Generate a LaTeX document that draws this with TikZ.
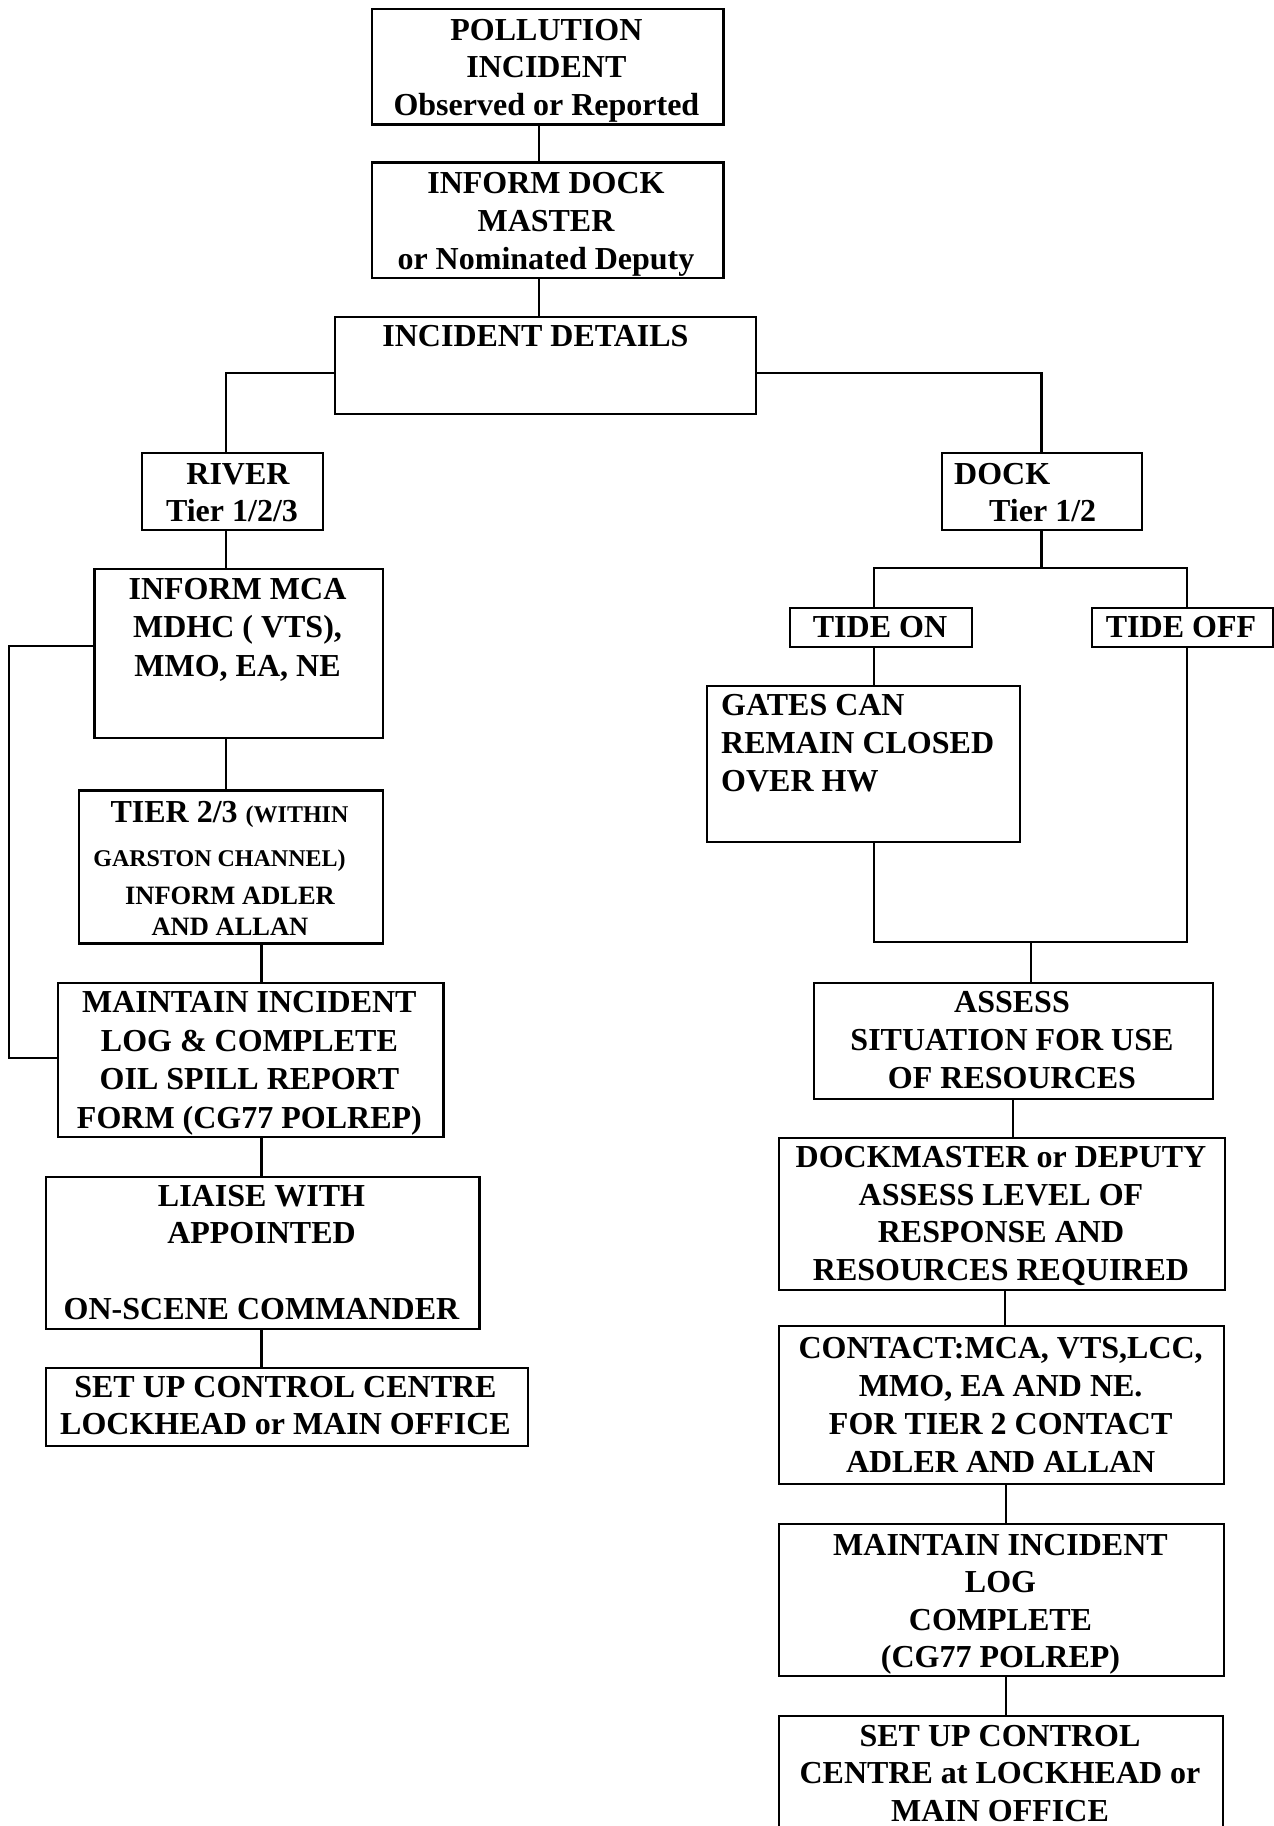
\documentclass[tikz,border=0pt]{standalone}
\usepackage{fontspec}
\setmainfont{Liberation Serif}
\begin{document}
\begin{tikzpicture}[x=1pt,y=-1pt,
  box/.style={draw, line width=2.4pt, inner sep=0pt, anchor=north west},
  conn/.style={line width=2.2pt},
  txt/.style={inner sep=0pt, anchor=base, align=center, font=\fontsize{32}{38}\selectfont\bfseries},
  txtl/.style={txt, anchor=base west, align=left},
]
\useasboundingbox (0,0) rectangle (1274,1826);

% ---------- boxes ----------
\node[box, minimum width=351.8pt, minimum height=115.4pt] (p1) at (370.5,8) {};
\node[box, minimum width=351.8pt, minimum height=115.5pt] (p2) at (370.5,161.3) {};
\node[box, minimum width=421pt, minimum height=97pt] (p3) at (334,316) {};
\node[box, minimum width=181pt, minimum height=77.1pt] (p4) at (141,451.6) {};
\node[box, minimum width=200.4pt, minimum height=77.1pt] (p5) at (940.6,451.6) {};
\node[box, minimum width=182pt, minimum height=39pt] (p6) at (789,607) {};
\node[box, minimum width=180.5pt, minimum height=39pt] (p7) at (1091,607) {};
\node[box, minimum width=313pt, minimum height=156.1pt] (p8) at (706,684.6) {};
\node[box, minimum width=398.6pt, minimum height=116pt] (p9) at (813,982) {};
\node[box, minimum width=446pt, minimum height=152pt] (p10) at (778,1137) {};
\node[box, minimum width=445pt, minimum height=158pt] (p11) at (778,1325) {};
\node[box, minimum width=445pt, minimum height=152pt] (p12) at (778,1523) {};
\node[box, minimum width=444pt, minimum height=130pt] (p13) at (778,1715) {};

\node[box, minimum width=288.4pt, minimum height=168.8pt] (q1) at (93.3,568) {};
\node[box, minimum width=304pt, minimum height=153pt] (q2) at (77.5,789.3) {};
\node[box, minimum width=385.8pt, minimum height=154pt] (q3) at (56.5,982) {};
\node[box, minimum width=433.3pt, minimum height=151.5pt] (q4) at (45,1176) {};
\node[box, minimum width=481.6pt, minimum height=77.6pt] (q5) at (45,1367) {};

% ---------- texts (anchor = baseline of the last line) ----------
\node[txt, font=\fontsize{32}{37.5}\selectfont\bfseries] (t1) at (546.4,115) {POLLUTION\\INCIDENT\\Observed or Reported};
\node[txt, font=\fontsize{32}{38.2}\selectfont\bfseries] (t2) at (546,269.4) {INFORM DOCK\\MASTER\\or Nominated Deputy};
\node[txt] (t3) at (535.5,346.5) {INCIDENT DETAILS};
\node[txt, font=\fontsize{32}{37}\selectfont\bfseries] (t4) at (232,521) {\hspace*{12pt}RIVER\\Tier 1/2/3};
\node[txtl, font=\fontsize{32}{37}\selectfont\bfseries] (t5) at (954,521) {DOCK\\\hspace*{35pt}Tier 1/2};
\node[txt] (t6) at (880,637.5) {TIDE ON};
\node[txt] (t7) at (1181,637.5) {TIDE OFF};
\node[txtl] (t8) at (721,791) {GATES CAN\\REMAIN CLOSED\\OVER HW};
\node[txt] (t9) at (1012,1088.5) {ASSESS\\SITUATION FOR USE\\OF RESOURCES};
\node[txt, font=\fontsize{32}{37.7}\selectfont\bfseries] (t10) at (1001,1280.6) {DOCKMASTER or DEPUTY\\ASSESS LEVEL OF\\RESPONSE AND\\RESOURCES REQUIRED};
\node[txt] (t11) at (1000.7,1472) {CONTACT:MCA, VTS,LCC,\\MMO, EA AND NE.\\FOR TIER 2 CONTACT\\ADLER AND ALLAN};
\node[txt, font=\fontsize{32}{37.4}\selectfont\bfseries] (t12) at (1000.5,1667.7) {MAINTAIN INCIDENT\\LOG\\COMPLETE\\(CG77 POLREP)};
\node[txt, font=\fontsize{32}{37.5}\selectfont\bfseries] (t13) at (1000,1821) {SET UP CONTROL\\CENTRE at LOCKHEAD or\\MAIN OFFICE};

\node[txt, font=\fontsize{32}{38.5}\selectfont\bfseries] (u1) at (237.5,676) {INFORM MCA\\MDHC ( VTS),\\MMO, EA, NE};
\node[txt] (u2a) at (229.5,822) {TIER 2/3 {\fontsize{24}{28}\selectfont (WITHIN}};
\node[txt, font=\fontsize{24}{28}\selectfont\bfseries] (u2b) at (219.5,866.5) {GARSTON CHANNEL)};
\node[txt, font=\fontsize{26.5}{30}\selectfont\bfseries] (u2c) at (230,904.5) {INFORM ADLER};
\node[txt, font=\fontsize{26.5}{30}\selectfont\bfseries] (u2d) at (230,935) {AND ALLAN};
\node[txt, font=\fontsize{32}{38.7}\selectfont\bfseries] (u3) at (249.4,1128.6) {MAINTAIN INCIDENT\\LOG \& COMPLETE\\OIL SPILL REPORT\\FORM (CG77 POLREP)};
\node[txt, font=\fontsize{32}{37.8}\selectfont\bfseries] (u4) at (261.5,1319.4) {LIAISE WITH\\APPOINTED\\\mbox{}\\ON-SCENE COMMANDER};
\node[txt, font=\fontsize{32}{37.5}\selectfont\bfseries] (u5) at (285.5,1434.5) {SET UP CONTROL CENTRE\\LOCKHEAD or MAIN OFFICE};

% ---------- connector guide coordinates ----------
\coordinate (xa) at (539,0);
\coordinate (yb) at (0,373);
\coordinate (xriver) at (225.6,0);
\coordinate (xdock) at (1041.5,0);
\coordinate (tj) at (1041.5,568);
\coordinate (xon) at (874,0);
\coordinate (xoff) at (1187,0);
\coordinate (mj) at (1031,942);
\coordinate (xb) at (1013,0);
\coordinate (xc) at (1005,0);
\coordinate (xd) at (1006,0);
\coordinate (xl) at (9,0);
\coordinate (yl1) at (0,646);
\coordinate (yl2) at (0,1057.7);
\coordinate (xe) at (261.5,0);

% ---------- connectors ----------
\draw[conn] (p1.south -| xa) -- (p2.north -| xa);
\draw[conn] (p2.south -| xa) -- (p3.north -| xa);
\draw[conn] (p3.west |- yb) -| (p4.north -| xriver);
\draw[conn] (p3.east |- yb) -| (p5.north -| xdock);
\draw[conn] (p5.south -| xdock) -- (tj);
\draw[conn] (p6.north -| xon) -- (xon |- tj) -- (xoff |- tj) -- (p7.north -| xoff);
\draw[conn] (p6.south -| xon) -- (p8.north -| xon);
\draw[conn] (p8.south -| xon) -- (xon |- mj) -- (xoff |- mj) -- (p7.south -| xoff);
\draw[conn] (mj) -- (p9.north -| mj);
\draw[conn] (p9.south -| xb) -- (p10.north -| xb);
\draw[conn] (p10.south -| xc) -- (p11.north -| xc);
\draw[conn] (p11.south -| xd) -- (p12.north -| xd);
\draw[conn] (p12.south -| xd) -- (p13.north -| xd);

\draw[conn] (p4.south -| xriver) -- (q1.north -| xriver);
\draw[conn] (q1.south -| xriver) -- (q2.north -| xriver);
\draw[conn] (q1.west |- yl1) -- (xl |- yl1) -- (xl |- yl2) -- (q3.west |- yl2);
\draw[conn] (q2.south -| xe) -- (q3.north -| xe);
\draw[conn] (q3.south -| xe) -- (q4.north -| xe);
\draw[conn] (q4.south -| xe) -- (q5.north -| xe);
\end{tikzpicture}
\end{document}
